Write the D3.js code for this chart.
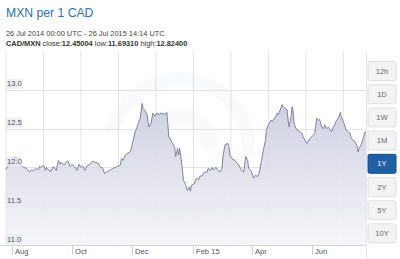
<!DOCTYPE html>
<html>
<head>
<meta charset="utf-8">
<script src="https://cdn.jsdelivr.net/npm/d3@7"></script>
<style>
  body { margin: 0; background: #fff; font-family: Arial, 'Liberation Sans', sans-serif; }
  svg { display: block; }
</style>
</head>
<body>
<div id="chart"></div>
<script>
// days since 26 Jul 2014 and CAD/MXN rate
const startDate = new Date(Date.UTC(2014, 6, 26));
const endDate = new Date(Date.UTC(2015, 6, 26));
const days = [0, 6, 10, 11, 18, 21, 24, 26, 28, 30, 33, 34, 36, 38, 40, 41, 45, 48, 51, 53, 55, 56, 59, 61, 63, 65, 67, 69, 72, 74, 76, 78, 80, 82, 85, 88,
  90, 94, 95, 98, 100, 102, 105, 109, 111, 113, 116, 117, 119, 121, 123, 126, 127, 129, 131, 133, 134, 136, 138, 139, 141, 143, 144, 145, 147,
  149, 151, 153, 155, 157, 160, 161, 163, 164, 165, 168, 171, 172, 174, 175, 176, 178, 180, 182, 184, 186, 187, 188, 191, 193, 195, 197, 199,
  201, 204, 205, 207, 209, 210, 213, 215, 217, 219, 220, 222, 225, 226, 227, 229, 232, 234, 236, 239, 241, 242, 243, 245, 246, 249, 251, 253,
  255, 257, 259, 261, 263, 264, 266, 269, 270, 273, 275, 276, 278, 280, 281, 283, 285, 286, 287, 289, 290, 291, 292, 294, 296, 298, 300, 301,
  303, 305, 306, 308, 312, 313, 315, 317, 318, 320, 322, 323, 325, 327, 328, 330, 332, 334, 335, 337, 339, 340, 342, 344, 345, 347, 349, 350,
  352, 354, 356, 357, 358, 360, 362, 364, 365];
const rates = [11.97, 12.115, 12.136, 12.08, 12.0, 11.986, 11.94, 11.97, 11.955, 11.986, 11.97, 12.015, 12.0, 12.03, 11.96, 12.0, 11.94, 12.01, 11.96, 12.09, 12.04, 12.07, 12.03, 12.07, 12.08, 12.01, 12.04, 12.015, 11.96, 12.04, 12.0, 12.015, 11.96, 12.015, 12.04, 12.08,
  12.07, 12.05, 12.01, 11.99, 11.92, 11.94, 11.96, 11.99, 12.0, 12.015, 12.03, 12.115, 12.09, 12.16, 12.18, 12.2, 12.245, 12.35, 12.46, 12.52, 12.57, 12.63, 12.824, 12.76, 12.73, 12.68, 12.59, 12.52, 12.57,
  12.7, 12.66, 12.7, 12.68, 12.7, 12.69, 12.68, 12.71, 12.57, 12.4, 12.33, 12.26, 12.14, 12.245, 12.16, 12.245, 12.07, 11.83, 11.78, 11.70, 11.75, 11.6931, 11.77, 11.79, 11.86, 11.84, 11.89, 11.89,
  11.94, 11.94, 11.99, 11.96, 12.0, 11.97, 12.0, 11.96, 11.94, 11.99, 12.14, 12.29, 12.31, 12.27, 12.16, 12.115, 12.09, 12.06, 12.03, 11.96, 11.94, 12.03, 12.14, 12.09, 11.99, 11.94, 11.86, 11.9,
  11.88, 11.94, 12.09, 12.22, 12.35, 12.48, 12.55, 12.61, 12.59, 12.65, 12.7, 12.68, 12.74, 12.81, 12.78, 12.76, 12.74, 12.61, 12.52, 12.65, 12.78, 12.74, 12.57, 12.5, 12.48, 12.46, 12.44, 12.4,
  12.35, 12.31, 12.33, 12.37, 12.42, 12.44, 12.63, 12.61, 12.62, 12.52, 12.5, 12.55, 12.5, 12.52, 12.5, 12.46, 12.52, 12.57, 12.61, 12.63, 12.71, 12.65, 12.59, 12.52, 12.48, 12.46, 12.44, 12.37,
  12.35, 12.33, 12.27, 12.2, 12.245, 12.29, 12.37, 12.46, 12.45];

const yTicks = [11.0, 11.5, 12.0, 12.5, 13.0];
const monthTicks = ['2014-08-01', '2014-10-01', '2014-12-01', '2015-02-01', '2015-04-01', '2015-06-01'];
const monthLabels = ['Aug', 'Oct', 'Dec', 'Feb 15', 'Apr', 'Jun'];
const gridEveryDays = 38;
const ranges = ['12h', '1D', '1W', '1M', '1Y', '2Y', '5Y', '10Y'];
const selectedRange = '1Y';

const W = 400, H = 259;
const plot = { left: 6, right: 366, top: 51, bottom: 245 };
const DAY = 86400000;

const svg = d3.select('#chart').append('svg')
  .attr('width', W)
  .attr('height', H);

// header
svg.append('text')
  .attr('x', 6).attr('y', 17)
  .style('font-size', '12.2px')
  .style('fill', '#2a73bd')
  .text('MXN per 1 CAD');

svg.append('text')
  .attr('x', 6).attr('y', 35.5)
  .style('font-size', '7.4px')
  .style('fill', '#444')
  .text('26 Jul 2014 00:00 UTC - 26 Jul 2015 14:14 UTC');

const info = svg.append('text')
  .attr('x', 6).attr('y', 45.5)
  .style('font-size', '7.4px')
  .style('fill', '#333');
[['CAD/MXN ', true], ['close:', false], ['12.45004 ', true], ['low:', false], ['11.69310 ', true], ['high:', false], ['12.82400', true]]
  .forEach(([t, b]) => info.append('tspan').style('font-weight', b ? 'bold' : 'normal').text(t));

const data = days.map((d, i) => ({ date: new Date(startDate.getTime() + d * DAY), rate: rates[i] }));

const x = d3.scaleUtc().domain([startDate, endDate]).range([plot.left, plot.right]);
const y = d3.scaleLinear().domain([11, 13.5]).range([plot.bottom, plot.top]);

const defs = svg.append('defs');
const grad = defs.append('linearGradient')
  .attr('id', 'fillGrad')
  .attr('gradientUnits', 'userSpaceOnUse')
  .attr('x1', 0).attr('x2', 0)
  .attr('y1', plot.top).attr('y2', plot.bottom);
grad.append('stop').attr('offset', '0%').attr('stop-color', '#b9bcd3');
grad.append('stop').attr('offset', '100%').attr('stop-color', '#f5f5f9');

// grid
const gridDates = d3.range(0, 366, gridEveryDays).map(d => new Date(startDate.getTime() + d * DAY));
svg.append('g')
  .selectAll('line')
  .data(gridDates)
  .join('line')
  .attr('x1', d => x(d)).attr('x2', d => x(d))
  .attr('y1', plot.top).attr('y2', plot.bottom)
  .attr('stroke', '#e3e3e6')
  .attr('stroke-width', 1);

svg.append('g')
  .selectAll('line')
  .data(yTicks)
  .join('line')
  .attr('x1', plot.left).attr('x2', plot.right)
  .attr('y1', d => Math.round(y(d)) + 0.5).attr('y2', d => Math.round(y(d)) + 0.5)
  .attr('stroke', '#e3e3e6');

// faint watermark logo
const logo = svg.append('g')
  .attr('transform', `translate(${x(new Date(Date.UTC(2015, 0, 18)))},${y(12.25)})`);
const ringArc = d3.arc();
[[62, 76, -1.35, 1.7], [62, 76, 2.4, 3.9], [22, 40, -2.2, 1.6]].forEach(([r0, r1, a0, a1]) => {
  logo.append('path')
    .attr('d', ringArc({ innerRadius: r0, outerRadius: r1, startAngle: a0, endAngle: a1 }))
    .attr('fill', '#9095b0').attr('opacity', 0.05);
});

const area = d3.area()
  .x(d => x(d.date))
  .y0(plot.bottom)
  .y1(d => y(d.rate));

const line = d3.line()
  .x(d => x(d.date))
  .y(d => y(d.rate));

svg.append('path')
  .datum(data)
  .attr('d', area)
  .attr('fill', 'url(#fillGrad)')
  .attr('opacity', 0.9);

svg.append('path')
  .datum(data)
  .attr('d', line)
  .attr('fill', 'none')
  .attr('stroke', '#7e83a3')
  .attr('stroke-width', 1);

// y labels
const yl = svg.append('g')
  .selectAll('g')
  .data(yTicks)
  .join('g')
  .attr('transform', d => `translate(7,${y(d) - 6})`);
yl.append('rect')
  .attr('x', -1.5).attr('y', -5)
  .attr('width', 17).attr('height', 10)
  .attr('fill', '#e9ebf4').attr('opacity', 0.8);
yl.append('text')
  .attr('dy', '0.35em')
  .style('font-size', '7.6px')
  .style('fill', '#555')
  .text(d => d.toFixed(1));

// x axis
svg.append('line')
  .attr('x1', 0).attr('x2', plot.right)
  .attr('y1', plot.bottom + 0.5).attr('y2', plot.bottom + 0.5)
  .attr('stroke', '#d6d6da');
svg.append('line')
  .attr('x1', plot.right + 0.5).attr('x2', plot.right + 0.5)
  .attr('y1', plot.top).attr('y2', H)
  .attr('stroke', '#e6e6e9');

const mt = svg.append('g')
  .selectAll('g')
  .data(monthTicks.map(s => new Date(s + 'T00:00:00Z')))
  .join('g')
  .attr('transform', d => `translate(${Math.round(x(d)) + 0.5},${plot.bottom})`);
mt.append('line')
  .attr('y1', 1).attr('y2', 10)
  .attr('stroke', '#d0d0d4');
mt.append('text')
  .attr('x', 2.5).attr('y', 8.5)
  .style('font-size', '7.6px')
  .style('fill', '#555')
  .text((d, i) => monthLabels[i]);

// range buttons
const btn = svg.append('g')
  .selectAll('g')
  .data(ranges)
  .join('g')
  .attr('transform', (d, i) => `translate(368,${61.5 + i * 23.2})`);
btn.append('rect')
  .attr('width', 28).attr('height', 19)
  .attr('rx', 1.5)
  .attr('fill', d => d === selectedRange ? '#1f5fa5' : '#f3f3f4')
  .attr('stroke', d => d === selectedRange ? '#174d8a' : '#e0e0e3');
btn.append('text')
  .attr('x', 14).attr('y', 9.5)
  .attr('dy', '0.35em')
  .attr('text-anchor', 'middle')
  .style('font-size', '7.6px')
  .style('fill', d => d === selectedRange ? '#fff' : '#666')
  .text(d => d);
</script>
</body>
</html>
